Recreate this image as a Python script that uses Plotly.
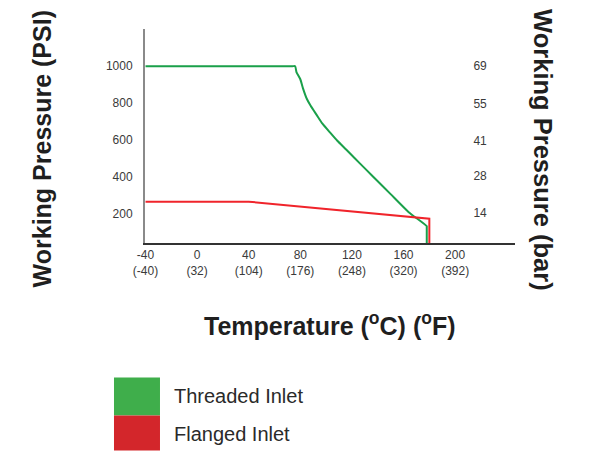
import plotly.graph_objects as go

# ---- data ----
temp_c_ticks = [-40, 0, 40, 80, 120, 160, 200]
temp_f_ticks = [-40, 32, 104, 176, 248, 320, 392]
psi_ticks = [200, 400, 600, 800, 1000]
bar_ticks = [14, 28, 41, 55, 69]

threaded_t = [-40, 74, 76, 77, 80, 82, 85, 88, 92.5, 97, 103, 108.5, 115.5, 122, 131, 140, 150, 164, 178, 178, 178]
threaded_p = [1000, 1000, 1000, 968, 929, 881, 823, 785, 737, 689, 640, 596, 547, 501, 438, 375, 305, 207, 131, 127, 0]

flanged_t = [-40, 40, 180, 180]
flanged_p = [264, 264, 171, 0]

series_names = ["Threaded Inlet", "Flanged Inlet"]
line_colors = ["#1aa04a", "#f0242b"]
box_colors = ["#3fae4b", "#d3262b"]

PSI_PER_BAR = 14.5038
x_range = [-40.4, 246.4]
y_range = [39.4, 1202]

FONT = "Liberation Sans, Arial, Helvetica, sans-serif"

fig = go.Figure()
fig.add_trace(go.Scatter(x=threaded_t, y=threaded_p, mode="lines", name=series_names[0],
                         line=dict(color=line_colors[0], width=2, shape="spline", smoothing=0.5),
                         showlegend=False))
fig.add_trace(go.Scatter(x=flanged_t, y=flanged_p, mode="lines", name=series_names[1],
                         line=dict(color=line_colors[1], width=2), showlegend=False))
# invisible trace to carry the bar axis
fig.add_trace(go.Scatter(x=threaded_t, y=[p / PSI_PER_BAR for p in threaded_p], mode="lines",
                         yaxis="y2", line=dict(width=0, color="rgba(0,0,0,0)"),
                         hoverinfo="skip", showlegend=False))

fig.update_layout(
    width=588, height=445,
    margin=dict(l=137, r=81, t=21, b=210),
    paper_bgcolor="white", plot_bgcolor="white",
    font=dict(family=FONT, size=12, color="#3a3a3a"),
    showlegend=False,
    xaxis=dict(
        range=x_range, showgrid=False, zeroline=False,
        showline=True, linecolor="#333333", linewidth=1.5,
        ticks="", tickvals=temp_c_ticks,
        ticktext=[f"{c}<br>({f})" for c, f in zip(temp_c_ticks, temp_f_ticks)],
        tickfont=dict(size=12, color="#3a3a3a"),
    ),
    yaxis=dict(
        range=y_range, showgrid=False, zeroline=False,
        showline=True, linecolor="#8a8a8a", linewidth=2,
        ticks="", tickvals=psi_ticks, ticklabelstandoff=8,
        tickfont=dict(size=12, color="#3a3a3a"),
    ),
    yaxis2=dict(
        range=[y_range[0] / PSI_PER_BAR, y_range[1] / PSI_PER_BAR],
        overlaying="y", side="right", anchor="free", position=0.885,
        showgrid=False, zeroline=False, showline=False, ticks="",
        tickvals=bar_ticks, tickfont=dict(size=12, color="#3a3a3a"),
    ),
)

fig.add_annotation(text="<b>Working Pressure (PSI)</b>", xref="paper", yref="paper",
                   x=-0.278, y=0.438, textangle=-90, showarrow=False,
                   xanchor="center", yanchor="middle",
                   font=dict(family=FONT, size=25, color="#1f1f1f"))
fig.add_annotation(text="<b>Working Pressure (bar)</b>", xref="paper", yref="paper",
                   x=1.0757, y=0.434, textangle=90, showarrow=False,
                   xanchor="center", yanchor="middle",
                   font=dict(family=FONT, size=25.5, color="#1f1f1f"))
fig.add_annotation(text="<b>Temperature (<sup>o</sup>C) (<sup>o</sup>F)</b>", xref="paper", yref="paper",
                   x=0.5, y=-0.380, showarrow=False,
                   xanchor="center", yanchor="middle", font=dict(family=FONT, size=25, color="#1f1f1f"))

# legend (boxes + labels)
legend_rows = [(-0.628, -0.806, -0.714), (-0.806, -0.970, -0.893)]
for (y0, y1, ym), name, col in zip(legend_rows, series_names, box_colors):
    fig.add_shape(type="rect", xref="paper", yref="paper",
                  x0=-0.0838, x1=0.0405, y0=y1, y1=y0,
                  fillcolor=col, line=dict(width=0))
    fig.add_annotation(text=name, xref="paper", yref="paper", x=0.073, y=ym,
                       showarrow=False, xanchor="left", yanchor="middle",
                       font=dict(family=FONT, size=20, color="#2a2a2a"))

fig.write_html("out.html")
